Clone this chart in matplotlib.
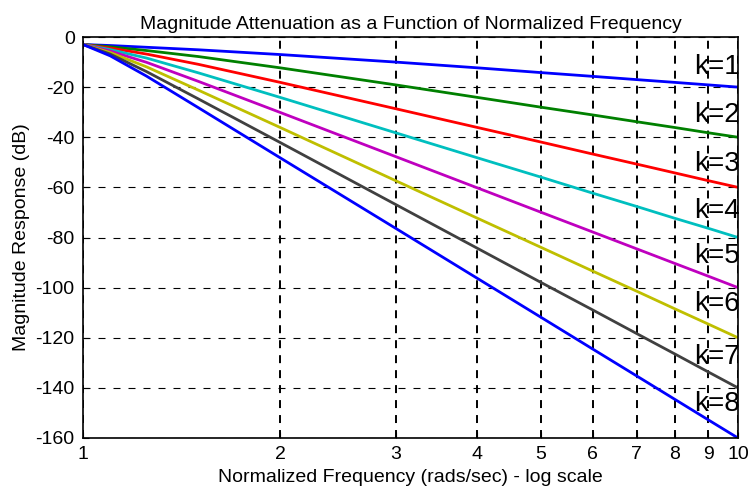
import matplotlib
matplotlib.use("Agg")
import matplotlib.pyplot as plt
from matplotlib.ticker import FixedLocator, NullLocator

plt.rcParams['font.family'] = ['Liberation Sans', 'DejaVu Sans']

freq = [1.0, 1.1, 1.25, 1.5, 2, 3, 4, 5, 6, 7, 8, 9, 10]
resp = {
    1: [-3.0, -3.4, -4.1, -5.1, -7.0, -10.0, -12.3, -14.2, -15.7, -17.0, -18.1, -19.1, -20.0],
    2: [-3.0, -3.9, -5.4, -7.8, -12.3, -19.1, -24.1, -28.0, -31.1, -33.8, -36.1, -38.2, -40.0],
    3: [-3.0, -4.4, -6.8, -10.9, -18.1, -28.6, -36.1, -41.9, -46.7, -50.7, -54.2, -57.3, -60.0],
    4: [-3.0, -5.0, -8.4, -14.3, -24.1, -38.2, -48.2, -55.9, -62.3, -67.6, -72.3, -76.3, -80.0],
    5: [-3.0, -5.6, -10.1, -17.7, -30.1, -47.7, -60.2, -69.9, -77.8, -84.5, -90.3, -95.4, -100.0],
    6: [-3.0, -6.2, -11.9, -21.2, -36.1, -57.3, -72.3, -83.9, -93.4, -101.4, -108.4, -114.5, -120.0],
    7: [-3.0, -6.8, -13.8, -24.7, -42.1, -66.8, -84.3, -97.9, -108.9, -118.3, -126.4, -133.6, -140.0],
    8: [-3.0, -7.5, -15.6, -28.2, -48.2, -76.3, -96.3, -111.8, -124.5, -135.2, -144.5, -152.7, -160.0],
}
colors = {1: (0, 0, 1), 2: (0, 0.5, 0), 3: (1, 0, 0), 4: (0, 0.75, 0.75),
          5: (0.75, 0, 0.75), 6: (0.75, 0.75, 0), 7: (0.25, 0.25, 0.25), 8: (0, 0, 1)}
label_pos = {1: -12, 2: -31, 3: -50.5, 4: -69.5, 5: -87.5, 6: -106.5, 7: -127.5, 8: -146.5}
xticks = [1, 2, 3, 4, 5, 6, 7, 8, 9, 10]
yticks = [0, -20, -40, -60, -80, -100, -120, -140, -160]

fig = plt.figure(figsize=(7.49, 4.92), dpi=100)
ax = fig.add_axes([83/749, 1-438/492, (738-83)/749, (438-37)/492])

for k in range(1, 9):
    ax.plot(freq, resp[k], color=colors[k], lw=2.0, zorder=3)
    ax.text(10.05, label_pos[k], f"k={k}", ha='right', va='center', fontsize=20,
            color='black', zorder=4)

ax.set_xscale('log')
ax.set_xlim(1, 10)
ax.set_ylim(-160, 0)
ax.xaxis.set_major_locator(FixedLocator(xticks))
ax.xaxis.set_minor_locator(NullLocator())
ax.set_xticklabels([str(t) for t in xticks])
ax.set_yticks(yticks)
ax.set_yticklabels([str(t) for t in yticks])
ax.tick_params(direction='in', labelsize=14, length=4, colors='black')
ax.tick_params(axis='x', pad=6)
ax.tick_params(axis='y', pad=6)

ax.grid(True, axis='x', linestyle=(0, (4.1, 3.6)), color='black', lw=1.4, zorder=1)
ax.grid(True, axis='y', linestyle=(0, (6.3, 7.2)), color='black', lw=0.8, zorder=1)
for s in ax.spines.values():
    s.set_linewidth(1.2)
    s.set_zorder(5)

ax.set_title("Magnitude Attenuation as a Function of Normalized Frequency", fontsize=14, pad=6)
ax.set_xlabel("Normalized Frequency (rads/sec) - log scale", fontsize=14, labelpad=4)
ax.set_ylabel("Magnitude Response (dB)", fontsize=14, labelpad=4)

fig.savefig("out.png", dpi=100)
